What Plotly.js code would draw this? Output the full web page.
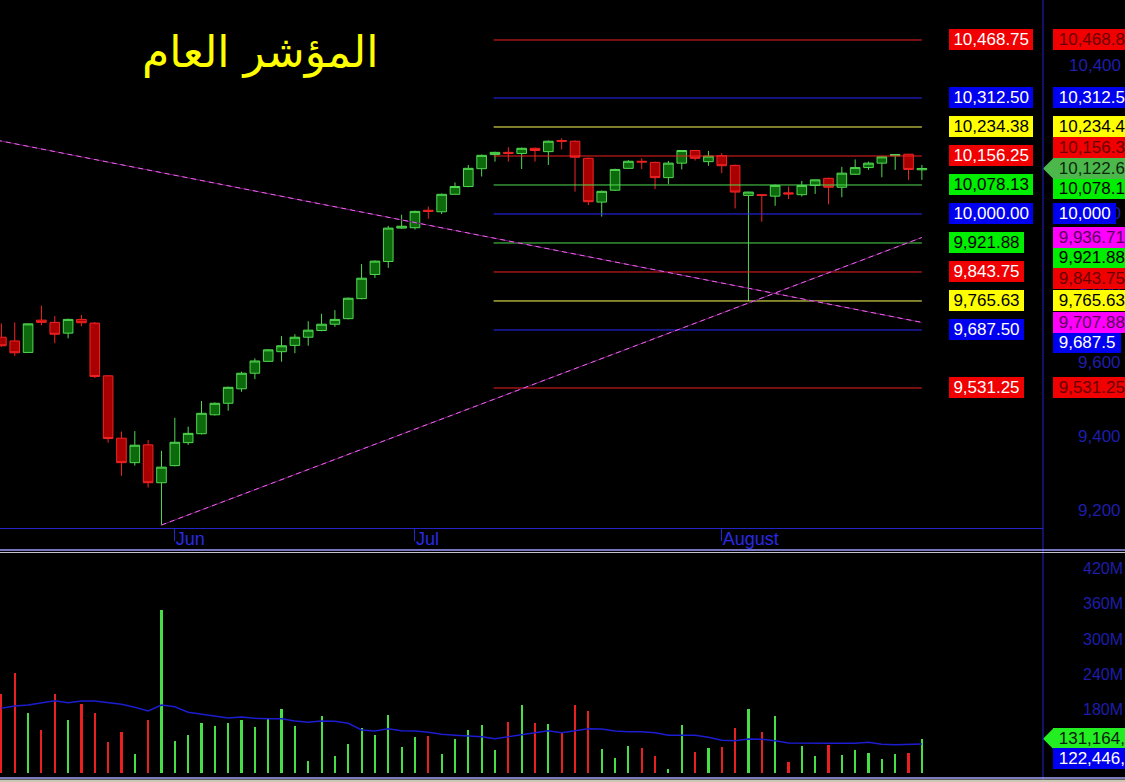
<!DOCTYPE html>
<html><head><meta charset="utf-8">
<script src="https://cdn.plot.ly/plotly-3.0.1.min.js"></script>
<style>html,body{margin:0;padding:0;background:#000;overflow:hidden}#chart{width:1125px;height:782px}</style>
</head><body><div id="chart"></div>
<script>
// ---------------- DATA ----------------
const chartTitle = 'المؤشر العام';
const open  = [9668,9658,9627,9714,9708,9679,9716,9706,9564,9396,9330,9378,9276,9322,9384,9408,9459,9490,9529,9571,
               9603,9629,9646,9668,9686,9703,9718,9772,9837,9872,9962,9963,10010,10006,10053,10074,10122,10160,10166,10163,
               10177,10168,10198,10196,10150,10032,10064,10123,10142,10139,10098,10137,10171,10141,10157,10131,10050,10052,10048,10057,
               10052,10077,10096,10072,10107,10125,10137,10157,10161,10119];
const high  = [9705,9708,9705,9753,9725,9718,9728,9709,9566,9414,9415,9391,9362,9451,9427,9496,9492,9535,9575,9611,
               9636,9671,9676,9711,9731,9741,9775,9865,9875,9968,9998,10009,10020,10055,10085,10132,10160,10168,10180,10179,
               10179,10198,10204,10198,10152,10063,10122,10145,10150,10141,10143,10172,10172,10170,10164,10133,10060,10053,10079,10074,
               10089,10093,10098,10127,10147,10141,10156,10161,10162,10132];
const low   = [9642,9618,9626,9700,9652,9665,9698,9558,9384,9295,9322,9263,9162,9320,9378,9406,9457,9470,9521,9555,
               9601,9602,9625,9645,9684,9696,9716,9770,9828,9855,9960,9958,9987,10000,10052,10072,10101,10141,10141,10121,
               10141,10132,10174,10060,10024,9993,10062,10121,10121,10067,10081,10120,10144,10130,10110,10015,9765.6,9979,10022,10040,
               10047,10054,10026,10045,10105,10119,10099,10119,10092,10092];
const close = [9645,9626,9704,9708,9676,9716,9707,9562,9395,9330,9377,9276,9318,9385,9409,9463,9490,9533,9571,9604,
               9634,9645,9668,9687,9703,9716,9773,9827,9873,9962,9967,10007,10007,10053,10074,10123,10158,10166,10163,10177,
               10171,10196,10196,10153,10033,10061,10120,10142,10140,10098,10137,10171,10150,10156,10130,10059,10059,10050,10077,10054,
               10077,10092,10072,10110,10125,10137,10154,10160,10120,10122.6];
// volume in millions of shares
const volumeM = [207.1,242.2,174.4,146.1,207.1,163.1,190.2,175.5,126.3,142.7,105.9,163.1,349.5,127.5,137.6,158.0,153.4,158.0,163.1,151.7,
                 166.4,181.7,152.9,93.6,169.8,102.5,122.4,149.5,138.1,171.5,117.8,134.7,135.9,105.4,130.8,146.1,154.6,111.7,159.7,188.5,
                 158.0,155.7,142.2,188.5,178.3,113.9,99.2,119.0,115.6,102.5,80.0,154.6,108.8,115.6,117.8,150.0,181.7,142.2,169.8,92.4,
                 119.0,102.5,120.7,103.7,112.2,107.6,96.9,105.4,107.6,131.164];
const volumeMA = [182.8,186.8,188.5,192.4,195.8,192.4,195.3,195.3,193.0,189.6,184.6,178.3,188.5,185.6,176.1,172.7,169.8,166.4,168.1,165.9,
                  165.3,165.3,161.4,159.1,161.4,160.8,157.5,146.1,144.4,148.3,144.9,144.4,142.2,138.8,137.1,136.2,134.7,131.4,134.7,137.6,
                  140.5,144.9,141.6,144.9,148.3,147.8,144.4,143.2,143.2,141.6,137.1,137.1,137.1,133.7,128.6,128.0,130.8,130.3,128.0,124.1,
                  123.6,123.6,123.6,123.6,123.6,125.2,121.9,121.2,121.2,122.446];
const monthTickBars = [13, 31, 54];
const monthLabels = ['Jun', 'Jul', 'August'];
const levels = [10468.75, 10312.50, 10234.38, 10156.25, 10078.13, 10000.00, 9921.88, 9843.75, 9765.63, 9687.50, 9531.25];
const levelSpanBars = [36.9, 69];
const trendDownBars = [-1, 69];
const trendDownValues = [10203.5, 9707.88];
const trendUpBars = [12, 69];
const trendUpValues = [9162, 9936.71];
const priceTicks = [9200, 9400, 9600, 9800, 10000, 10200, 10400];
const volumeTicksM = [180, 240, 300, 360, 420];

// ---------------- STYLE ----------------
const W = 1125, H = 782;
const axisX = 1043;                 // right axis line px
const priceRange = [9154, 10576.5];
const priceDom = [254 / H, 1];
const volRange = [73.2, 446.1];
const volDom = [9 / H, 229 / H];
const FONT = 'Liberation Sans, Arial, sans-serif';
const pal = {
  red:    {line:'#f02020', bg:'#f00000', fgL:'#ffffff', fgR:'#6a0000'},
  blue:   {line:'#2a2aff', bg:'#0000f0', fgL:'#ffffff', fgR:'#ffffff'},
  yellow: {line:'#ffff58', bg:'#ffff00', fgL:'#000000', fgR:'#000000'},
  green:  {line:'#50dc50', bg:'#00ee00', fgL:'#000000', fgR:'#000000'},
  magenta:{bg:'#ff00ff', fgR:'#5a005a'}
};
const levelPalette = ['red','blue','yellow','red','green','blue','green','red','yellow','blue','red'];
const labelColor = '#1e1eaa';

const barNo = open.map((_, i) => i);
const last = barNo.length - 1;

function fmt8(v) {
  const ip = Math.trunc(Math.abs(v)).toLocaleString('en-US');
  const d = Math.max(0, 8 - ip.length - 1);
  let s = v.toLocaleString('en-US', {minimumFractionDigits: d, maximumFractionDigits: d});
  if (s.indexOf('.') >= 0) s = s.replace(/\.?0+$/, '');
  return s;
}

const traces = [];
// Murrey-style levels
levels.forEach((lv, i) => {
  traces.push({type:'scatter', mode:'lines', x: levelSpanBars, y:[lv, lv], xaxis:'x', yaxis:'y',
    line:{color: pal[levelPalette[i]].line, width:1}, hoverinfo:'skip'});
});
// trend lines (dark under-line + pink dashes)
[[trendDownBars, trendDownValues], [trendUpBars, trendUpValues]].forEach(([bx, vy]) => {
  traces.push({type:'scatter', mode:'lines', x:bx, y:vy, xaxis:'x', yaxis:'y',
    line:{color:'#6a1a6a', width:1}, hoverinfo:'skip'});
  traces.push({type:'scatter', mode:'lines', x:bx, y:vy, xaxis:'x', yaxis:'y',
    line:{color:'#f060f0', width:1, dash:'5px,4px'}, hoverinfo:'skip'});
});
// candles
traces.push({type:'candlestick', x:barNo, open, high, low, close, xaxis:'x', yaxis:'y',
  whiskerwidth:0,
  increasing:{line:{color:'#52d852', width:1}, fillcolor:'#0c6a0c'},
  decreasing:{line:{color:'#f22424', width:1}, fillcolor:'#a80000'},
  hoverinfo:'none'});
// volume bars + MA
traces.push({type:'bar', x:barNo, y:volumeM, xaxis:'x2', yaxis:'y2', width:0.16,
  marker:{color: barNo.map(i => close[i] >= open[i] ? '#46e046' : '#ea2020'), line:{width:0}}, hoverinfo:'skip'});
traces.push({type:'scatter', mode:'lines', x:barNo, y:volumeMA, xaxis:'x2', yaxis:'y2',
  line:{color:'#1c1cd0', width:1.5}, hoverinfo:'skip'});

// ---------- label placement on right strip ----------
function pxPrice(v){ return (1 - priceDom[1]) * H + (priceRange[1] - v) / (priceRange[1] - priceRange[0]) * (priceDom[1] - priceDom[0]) * H; }
function pxVol(v){ return (1 - volDom[1]) * H + (volRange[1] - v) / (volRange[1] - volRange[0]) * (volDom[1] - volDom[0]) * H; }
function place(labels, pxFn, h) {
  labels.forEach(l => { l.want = pxFn(l.v); });
  const placed = [];
  labels.filter(l => l.fixed).forEach(l => { l.at = l.want; placed.push(l); });
  labels.filter(l => !l.fixed).sort((a, b) => a.want - b.want).forEach(l => {
    const cands = [l.want];
    placed.forEach(p => { cands.push(p.at - h); cands.push(p.at + h); });
    const ok = c => placed.every(p => Math.abs(p.at - c) >= h - 0.01);
    let best = null;
    cands.forEach(c => { if (ok(c) && (best === null || Math.abs(c - l.want) < Math.abs(best - l.want))) best = c; });
    l.at = best;
    placed.push(l);
  });
  return labels;
}

const rightPrice = levels.map((lv, i) => ({v: lv, text: fmt8(lv), bg: pal[levelPalette[i]].bg, fg: pal[levelPalette[i]].fgR}));
rightPrice.push({v: trendUpValues[1], text: fmt8(trendUpValues[1]), bg: pal.magenta.bg, fg: pal.magenta.fgR, fixed: true});
rightPrice.push({v: trendDownValues[1], text: fmt8(trendDownValues[1]), bg: pal.magenta.bg, fg: pal.magenta.fgR, fixed: true});
rightPrice.push({v: close[last], text: fmt8(close[last]), bg: '#4cb84c', fg: '#0c280c', fixed: true, arrow: true});
place(rightPrice, pxPrice, 20.5);

const rightVol = [
  {v: volumeM[last], text: Math.round(volumeM[last] * 1e6).toLocaleString('en-US'), bg: '#22ee22', fg: '#082008', fixed: true, arrow: true},
  {v: volumeMA[last], text: Math.round(volumeMA[last] * 1e6).toLocaleString('en-US'), bg: '#0000f0', fg: '#ffffff'}
];
place(rightVol, pxVol, 20);

const annotations = [];
const shapes = [];
// title
annotations.push({xref:'paper', yref:'paper', x: 260 / W, y: 1 - 52 / H, text: chartTitle, showarrow:false,
  xanchor:'center', yanchor:'middle', font:{family:'DejaVu Sans, sans-serif', size:44, color:'#ffff00'}});
// price axis tick labels (right aligned)
priceTicks.forEach(t => annotations.push({xref:'paper', yref:'y', x: 1123 / W, y: t, text: t.toLocaleString('en-US'),
  showarrow:false, xanchor:'right', yanchor:'middle', font:{family:FONT, size:17, color:labelColor}}));
volumeTicksM.forEach(t => annotations.push({xref:'paper', yref:'y2', x: 1125 / W, y: t, text: t + 'M',
  showarrow:false, xanchor:'right', yanchor:'middle', font:{family:FONT, size:16, color:labelColor}}));
// left level labels in plot
levels.forEach((lv, i) => {
  const p = pal[levelPalette[i]];
  annotations.push({xref:'x', yref:'y', x: 71, y: lv, xanchor:'left', yanchor:'middle', showarrow:false,
    text: '\u2009' + lv.toLocaleString('en-US', {minimumFractionDigits:2, maximumFractionDigits:2}) + '\u2009',
    bgcolor: p.bg, borderpad:1, borderwidth:0, font:{family:FONT, size:17, color:p.fgL}});
});
function rightLabels(list, yref) {
  list.forEach(l => {
    annotations.push({xref:'paper', yref: yref, x: 1053 / W, y: l.v, yshift: -(l.at - l.want),
      xanchor:'left', yanchor:'middle', showarrow:false, text: '\u00a0' + l.text + '\u00a0',
      bgcolor: l.bg, borderpad:1, borderwidth:0, font:{family:FONT, size:17, color:l.fg}});
    if (l.arrow) {
      const rng = yref === 'y' ? priceRange : volRange;
      const dom = yref === 'y' ? priceDom : volDom;
      const perPx = (rng[1] - rng[0]) / ((dom[1] - dom[0]) * H);
      const vc = l.v - (l.at - l.want) * perPx;
      const hh = 10.5 * perPx;
      shapes.push({type:'path', xref:'paper', yref: yref, layer:'above', line:{width:0}, fillcolor: l.bg,
        path: `M ${axisX / W},${vc} L ${1053.5 / W},${vc + hh} L ${1053.5 / W},${vc - hh} Z`});
    }
  });
}
rightLabels(rightPrice, 'y');
rightLabels(rightVol, 'y2');

// frame lines
shapes.push({type:'line', xref:'paper', yref:'paper', x0: axisX / W, x1: axisX / W, y0: 0, y1: 1, line:{color:'#2424d0', width:1}});
shapes.push({type:'line', xref:'paper', yref:'paper', x0: 0, x1: 1, y0: (H - 550) / H, y1: (H - 550) / H, line:{color:'#9c9cff', width:1.5}});
shapes.push({type:'line', xref:'paper', yref:'paper', x0: 0, x1: 1, y0: (H - 552.5) / H, y1: (H - 552.5) / H, line:{color:'#c4c4cc', width:1}});
shapes.push({type:'line', xref:'paper', yref:'paper', x0: 0, x1: 1, y0: (H - 778) / H, y1: (H - 778) / H, line:{color:'#a4a4ff', width:1.5}});
shapes.push({type:'rect', xref:'paper', yref:'paper', x0: 0, x1: 1, y0: 0, y1: (H - 779.5) / H, line:{width:0}, fillcolor:'#c8c8b4'});

const layout = {
  width: W, height: H, margin:{l:0, r:0, t:0, b:0},
  paper_bgcolor:'#000', plot_bgcolor:'#000', showlegend:false, boxgap:0.28, boxgroupgap:0, bargap:0,
  font:{family:FONT},
  xaxis:{domain:[0, axisX / W], range:[-0.105, 78.08], anchor:'y', type:'linear',
    tickmode:'array', tickvals: monthTickBars, ticktext: monthLabels,
    ticks:'outside', ticklen:12, tickcolor:'#2424d0', tickwidth:1,
    ticklabelposition:'outside right', ticklabelstandoff:-6,
    tickfont:{family:FONT, size:18, color:'#2a2ae4'},
    showline:true, linecolor:'#2424c8', linewidth:1, showgrid:false, zeroline:false,
    rangeslider:{visible:false}},
  xaxis2:{domain:[0, axisX / W], matches:'x', anchor:'y2', visible:false, showgrid:false, zeroline:false},
  yaxis:{domain: priceDom, range: priceRange, showticklabels:false, showgrid:false, zeroline:false, ticks:''},
  yaxis2:{domain: volDom, range: volRange, showticklabels:false, showgrid:false, zeroline:false, ticks:''},
  annotations, shapes
};
Plotly.newPlot('chart', traces, layout, {staticPlot:true});
</script></body></html>
